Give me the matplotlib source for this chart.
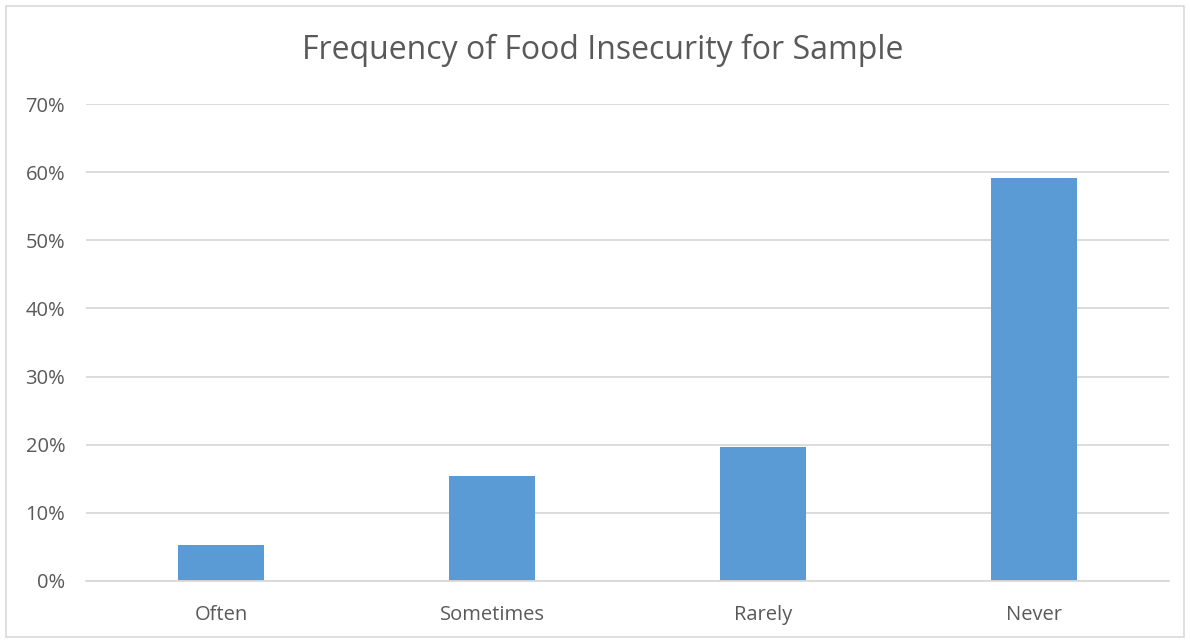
"""
Bar chart: frequency of food insecurity across the sample.
Saves out.png
"""

import matplotlib.pyplot as plt
from matplotlib.patches import Rectangle
from matplotlib.ticker import PercentFormatter

categories = ["Often", "Sometimes", "Rarely", "Never"]
shares = [0.053, 0.154, 0.197, 0.591]
y_ticks = [0.0, 0.1, 0.2, 0.3, 0.4, 0.5, 0.6, 0.7]

BAR_COLOR = "#5b9bd5"
GRID_COLOR = "#d9d9d9"
TEXT_COLOR = "#595959"

plt.rcParams["font.family"] = ["Open Sans", "DejaVu Sans"]

W, H = 1190, 641
fig = plt.figure(figsize=(W / 100, H / 100), dpi=100)
fig.patch.set_facecolor("white")

# plot area in pixel terms, converted to figure fractions
left, right, bottom, top = 86, 1169, 581, 104
ax = fig.add_axes([left / W, 1 - bottom / H, (right - left) / W, (bottom - top) / H])

ax.bar(range(len(categories)), shares, width=0.317, color=BAR_COLOR, zorder=3)

ax.set_xlim(-0.5, len(categories) - 0.5)
ax.set_ylim(0, 0.7)
ax.set_yticks(y_ticks)
ax.yaxis.set_major_formatter(PercentFormatter(1.0, decimals=0))
ax.set_xticks(range(len(categories)))
ax.set_xticklabels(categories)

ax.grid(axis="y", color=GRID_COLOR, linewidth=1.3, zorder=0)
for side in ["top", "right", "left"]:
    ax.spines[side].set_visible(False)
ax.spines["bottom"].set_color(GRID_COLOR)
ax.spines["bottom"].set_linewidth(1.3)
ax.spines["bottom"].set_zorder(4)

ax.tick_params(axis="both", length=0, colors=TEXT_COLOR, labelsize=14.5)
ax.tick_params(axis="y", pad=15)
ax.tick_params(axis="x", pad=17)

fig.text(603 / W, 1 - 50 / H, "Frequency of Food Insecurity for Sample",
         ha="center", va="center", fontsize=23, color=TEXT_COLOR)

# thin frame around the whole chart
fig.patches.append(Rectangle((6 / W, 4 / H), (W - 12) / W, (H - 10) / H,
                             transform=fig.transFigure, fill=False,
                             edgecolor=GRID_COLOR, linewidth=1.2))

fig.savefig("out.png", dpi=100)
plt.close(fig)
